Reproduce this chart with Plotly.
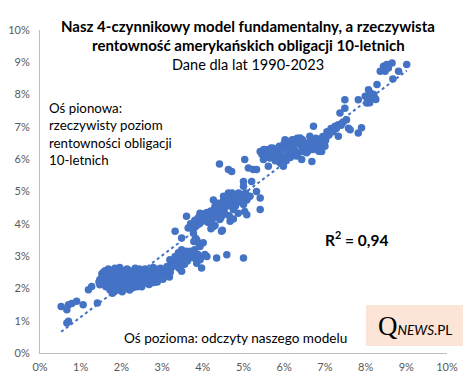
import numpy as np
import plotly.graph_objects as go

# model reading (x, %) and actual 10y yield (y, %)
model_x = [
    0.52, 0.66, 0.70, 0.78, 0.90, 1.06, 0.66, 0.70, 1.41, 1.19, 1.27, 1.47, 1.56, 1.47,
    1.45, 1.50, 1.52, 1.55, 1.58, 1.60, 1.62, 1.65, 1.66, 1.68, 1.70, 1.72, 1.74, 1.76,
    1.78, 1.80, 1.82, 1.84, 1.86, 1.88, 1.90, 1.92, 1.94, 1.96, 1.98, 2.00, 2.02, 2.04,
    2.06, 2.08, 2.10, 2.12, 2.14, 2.16, 2.18, 2.20, 2.22, 2.24, 2.26, 2.28, 2.30, 2.32,
    2.34, 2.36, 2.38, 2.40, 2.42, 2.44, 2.46, 2.48, 2.50, 2.52, 2.55, 2.58, 2.60, 2.62,
    2.65, 2.68, 2.70, 2.72, 2.75, 2.78, 2.80, 2.82, 2.85, 2.88, 2.90, 2.93, 2.96, 3.00,
    3.02, 3.05, 3.08, 3.12, 3.15, 3.18, 3.22, 3.25,
    1.56, 1.64, 1.72, 1.78, 1.84, 1.90, 1.96, 2.02, 2.08, 2.14, 2.20, 2.26, 2.32, 2.38,
    2.44, 2.50, 2.56, 2.62, 2.68, 2.74, 2.80, 2.86, 2.92, 2.98, 1.70, 1.76, 1.88, 2.00,
    2.12, 2.24, 2.36, 2.48, 2.60, 2.72, 1.82, 2.06, 2.30, 2.54, 2.66, 2.84, 3.10, 3.28, 3.20,
    3.30, 3.35, 3.38, 3.42, 3.45, 3.50, 3.55, 3.58, 3.62, 3.66, 3.70, 3.75, 3.80, 3.88,
    3.95, 4.05, 3.90, 3.82, 3.78,
    3.32, 3.48, 3.60, 3.64, 3.77, 3.85, 3.93, 4.01, 3.48, 3.60, 3.73, 3.85, 3.93, 4.10,
    4.34, 4.59, 5.00, 3.97, 3.85, 3.48, 3.44, 3.19, 3.32, 3.40,
    3.93, 4.01, 4.10, 4.18, 4.26, 4.34, 4.42, 4.46, 4.67, 4.38, 4.51, 4.63, 4.75, 4.83,
    4.75, 4.87, 5.03, 5.08, 5.08, 5.16, 5.32, 5.41, 5.41, 5.00, 5.00, 5.20, 4.41, 4.63,
    4.71, 5.03, 5.12, 5.24, 5.32, 5.61, 4.26, 4.30, 3.77, 3.85, 3.69,
    3.70, 3.75, 3.80, 3.85, 3.90, 3.95, 4.00, 4.05, 4.10, 4.12, 4.15, 4.20, 4.22, 4.25,
    4.30, 4.32, 4.35, 4.40, 4.42, 4.45, 4.50, 4.52, 4.55, 4.58, 4.60, 4.62, 4.65, 4.68,
    4.70, 4.72, 4.75, 4.78, 4.80, 4.85, 4.88, 4.92, 4.95, 5.00, 5.05, 5.10, 4.45, 4.55,
    4.65, 4.75, 4.48, 4.30, 4.20,
    5.41, 5.57, 5.65, 5.73, 5.82, 5.49, 5.65, 5.90, 5.98, 6.02, 6.06, 6.14, 6.22, 6.26,
    6.39, 6.43, 6.47, 6.43, 6.63, 6.72, 6.68, 6.76, 6.84, 6.92, 7.00, 7.08, 7.16, 7.25,
    7.33, 7.33, 7.37, 7.49, 7.49, 7.53, 7.58, 7.62, 7.82, 7.90, 7.82, 7.99, 8.03, 8.07,
    8.12, 8.23, 8.28, 8.36, 8.44, 8.52, 8.65, 8.67, 8.81, 9.01, 8.56, 8.48,
    5.45, 5.50, 5.55, 5.60, 5.68, 5.70, 5.75, 5.78, 5.85, 5.88, 5.92, 5.95, 6.00, 6.02,
    6.08, 6.10, 6.12, 6.18, 6.20, 6.25, 6.28, 6.32, 6.35, 6.40, 6.45, 6.50, 6.55, 6.58,
    6.62, 6.65, 6.70, 6.75, 6.78, 6.82, 6.88, 6.90, 6.95, 7.02, 7.05, 7.10, 7.15, 7.20,
    7.28, 7.40, 7.45, 6.05, 6.15, 5.95, 6.30, 6.55, 6.85, 7.00,
    8.05, 8.10, 8.15, 8.20, 8.25,
]
actual_y = [
    1.44, 1.34, 1.49, 1.53, 1.60, 1.49, 0.93, 0.98, 1.55, 1.96, 2.06, 2.27, 2.47, 2.11,
    2.20, 2.30, 2.45, 2.15, 2.35, 2.55, 2.05, 2.25, 2.40, 2.60, 2.15, 1.95, 2.30, 2.50,
    1.85, 2.10, 2.35, 2.62, 2.20, 1.95, 2.45, 2.05, 2.30, 2.65, 2.15, 2.40, 1.90, 2.25,
    2.55, 2.10, 2.35, 2.00, 2.60, 2.20, 2.45, 1.95, 2.30, 2.12, 2.50, 2.02, 2.38, 2.20,
    2.62, 2.08, 2.28, 2.45, 2.15, 2.35, 2.55, 2.22, 2.05, 2.40, 2.28, 2.60, 2.18, 2.45,
    2.32, 2.12, 2.52, 2.38, 2.25, 2.65, 2.42, 2.30, 2.55, 2.20, 2.48, 2.35, 2.62, 2.45,
    2.28, 2.55, 2.40, 2.68, 2.50, 2.35, 2.62, 2.75,
    2.50, 2.10, 2.45, 2.25, 2.00, 2.25, 1.95, 2.50, 2.30, 2.15, 2.55, 2.25, 2.42, 2.05,
    2.60, 2.30, 2.48, 2.25, 2.40, 2.50, 2.18, 2.38, 2.52, 2.32, 2.35, 2.08, 2.40, 2.20,
    2.45, 2.38, 2.50, 2.45, 2.35, 2.28, 1.90, 2.00, 2.10, 2.15, 2.55, 2.60, 2.58, 2.70, 2.50,
    2.80, 2.70, 2.90, 2.62, 2.85, 2.95, 2.75, 3.05, 2.85, 3.00, 3.15, 2.95, 3.20, 3.05,
    2.95, 3.05, 3.40, 3.55, 3.45,
    3.77, 3.56, 4.23, 3.87, 3.71, 3.51, 3.30, 3.41, 3.20, 3.15, 3.10, 2.99, 2.89, 2.99,
    2.94, 3.04, 2.94, 2.63, 2.78, 2.53, 2.68, 2.89, 2.99, 3.10,
    4.33, 4.13, 4.23, 4.02, 3.92, 4.33, 4.13, 3.77, 4.08, 4.64, 4.85, 4.95, 4.85, 4.64,
    4.44, 4.33, 4.38, 4.28, 4.74, 4.85, 5.00, 4.80, 4.44, 5.31, 5.16, 5.31, 5.85, 5.68,
    5.62, 5.99, 5.73, 5.68, 5.68, 5.78, 4.74, 4.54, 4.02, 4.13, 3.92,
    4.00, 3.85, 4.10, 3.95, 4.20, 4.05, 4.30, 4.15, 4.35, 4.05, 4.25, 4.40, 4.10, 4.30,
    4.50, 4.20, 4.40, 4.60, 4.35, 4.55, 4.70, 4.45, 4.65, 4.85, 4.55, 4.75, 4.90, 4.60,
    4.80, 4.95, 4.70, 4.90, 4.55, 4.80, 4.95, 4.70, 4.85, 4.60, 4.95, 4.80, 4.20, 4.30,
    4.25, 4.15, 3.80, 3.95, 3.85,
    6.24, 6.29, 6.19, 6.34, 6.24, 5.99, 6.04, 5.88, 5.78, 6.60, 6.45, 6.29, 6.14, 6.60,
    6.66, 6.40, 6.24, 5.99, 6.71, 7.02, 5.93, 6.40, 6.29, 6.24, 6.55, 6.81, 6.91, 7.02,
    7.07, 6.71, 7.43, 7.84, 7.58, 7.22, 6.96, 6.91, 6.81, 6.97, 7.84, 7.95, 7.74, 8.15,
    8.05, 7.89, 8.31, 8.72, 8.88, 8.93, 8.98, 8.48, 8.72, 8.93, 8.82, 8.72,
    6.15, 6.30, 6.05, 6.20, 6.35, 6.10, 6.25, 5.95, 6.15, 6.40, 6.05, 6.30, 6.50, 6.10,
    6.35, 6.55, 6.20, 6.45, 6.60, 6.30, 6.50, 6.65, 6.20, 6.45, 6.60, 6.35, 6.50, 6.25,
    6.40, 6.55, 6.30, 6.50, 6.65, 6.40, 6.55, 6.35, 6.70, 6.60, 6.85, 6.75, 6.95, 6.85,
    6.95, 7.05, 7.15, 5.95, 6.05, 5.85, 6.10, 6.20, 6.25, 6.40,
    7.90, 7.75, 7.95, 8.00, 7.85,
]
axis_ticks = list(range(0, 11))
axis_tick_labels = [f"{v}%" for v in axis_ticks]
r2_label = "R<sup>2</sup> = 0,94"

BLUE = "#4472C4"
FONT = "Lato"

mx = np.array(model_x)
ay = np.array(actual_y)
slope, intercept = np.polyfit(mx, ay, 1)
tx = np.array([mx.min(), mx.max()])
ty = slope * tx + intercept

fig = go.Figure()
fig.add_trace(go.Scatter(x=tx, y=ty, mode="lines",
                         line=dict(color=BLUE, width=2, dash="dot"),
                         hoverinfo="skip", showlegend=False))
fig.add_trace(go.Scatter(x=model_x, y=actual_y, mode="markers",
                         marker=dict(color=BLUE, size=7.5, line=dict(width=0)),
                         showlegend=False))

axis_common = dict(range=[0, 10], tickmode="array", tickvals=axis_ticks,
                   ticktext=axis_tick_labels, automargin=False,
                   showgrid=False, zeroline=False, showline=True,
                   linecolor="#BFBFBF", linewidth=1,
                   ticks="outside", tickcolor="rgba(0,0,0,0)",
                   tickfont=dict(family=FONT, size=11, color="#595959"),
                   fixedrange=True)
fig.update_xaxes(**axis_common, ticklen=4)
fig.update_yaxes(**axis_common, ticklen=7)

# page body has an 8px margin, so the figure is drawn 8px smaller
OFF = 8
W, H = 472 - OFF, 385 - OFF
L, R, T, B = 40 - OFF, 25, 30 - OFF, 32
pw, ph = W - L - R, H - T - B

def px(sx):
    return (sx - OFF - L) / pw

def py(sy):
    return (H - B - (sy - OFF)) / ph

annotations = []
for text, sy, size in [
    ("<b>Nasz 4-czynnikowy model fundamentalny, a rzeczywista</b>", 25.5, 15),
    ("<b>rentowność amerykańskich obligacji 10-letnich</b>", 45, 15),
    ("Dane dla lat 1990-2023", 64, 14.5),
]:
    annotations.append(dict(text=text, x=px(248), y=py(sy), xref="paper", yref="paper",
                            xanchor="center", yanchor="middle", showarrow=False,
                            font=dict(family=FONT, size=size, color="#000000")))
annotations.append(dict(text="Oś pionowa:<br>rzeczywisty poziom<br>rentowności obligacji<br>10-letnich",
                        x=px(47), y=py(98), xref="paper", yref="paper", xanchor="left",
                        yanchor="top", align="left", showarrow=False,
                        font=dict(family=FONT, size=13.3, color="#000000")))
annotations.append(dict(text="<b>" + r2_label + "</b>", x=px(356), y=py(238),
                        xref="paper", yref="paper", xanchor="center", yanchor="middle",
                        showarrow=False, font=dict(family=FONT, size=15.5, color="#000000")))
annotations.append(dict(text="Oś pozioma: odczyty naszego modelu", x=px(235.5), y=py(338),
                        xref="paper", yref="paper", xanchor="center", yanchor="middle",
                        showarrow=False, font=dict(family=FONT, size=13.6, color="#000000")))
annotations.append(dict(text="<span style='font-family:Liberation Serif;font-size:27px'>Q</span>"
                             "<i>NEWS</i>.PL",
                        x=px(415), y=py(326), xref="paper", yref="paper",
                        xanchor="center", yanchor="middle", showarrow=False,
                        font=dict(family=FONT, size=13.5, color="#000000")))

fig.update_layout(
    width=W, height=H,
    margin=dict(l=L, r=R, t=T, b=B),
    paper_bgcolor="white", plot_bgcolor="white",
    annotations=annotations,
    shapes=[dict(type="rect", xref="paper", yref="paper",
                 x0=px(366), x1=px(463), y0=py(346), y1=py(305),
                 fillcolor="#FCE4D6", line=dict(width=0), layer="below")],
)

fig.write_html("out.html")
